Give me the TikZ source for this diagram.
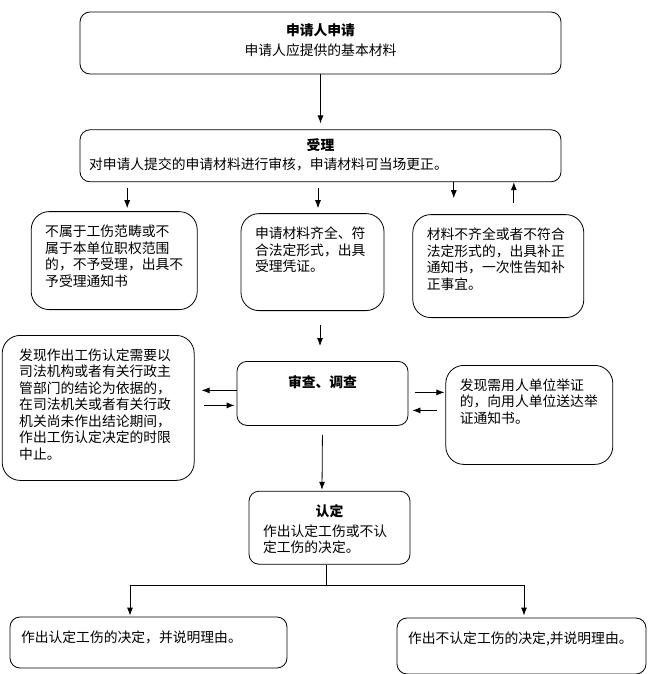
\documentclass[tikz,border=0pt]{standalone}
\usepackage{fontspec}
\newfontfamily\cjk{Noto Sans CJK SC}
\usetikzlibrary{arrows.meta,positioning}

\begin{document}
\begin{tikzpicture}[font=\cjk\fontsize{13.8}{16.5}\selectfont,>={Latex[length=8pt,width=6pt]},line width=0.8pt,
  card/.style={draw,rounded corners=10pt,inner xsep=14pt,inner ysep=5pt,align=left,text height=20pt},
  tallcard/.style={card,rounded corners=18pt}]
\useasboundingbox (0,0) rectangle (651pt,-674pt);
\node[card,align=center,text width=453pt,text height=19pt,text depth=33pt] (apply) at (320.5pt,-43pt) {\textbf{申请人申请}\\[3pt]申请人应提供的基本材料};
\node[card,inner xsep=9pt,text width=463pt,text height=16pt,text depth=26pt,below=55pt of apply] (accept) {\makebox[\linewidth]{\textbf{受理}}\\[2.5pt]对申请人提交的申请材料进行审核，申请材料可当场更正。};
\node[tallcard,text width=115pt,text depth=67pt,below=31pt of accept,xshift=-8pt] (receipt) {申请材料齐全、符\\合法定形式，出具\\受理凭证。};
\node[tallcard,text width=138pt,text depth=68pt,left=43pt of receipt,yshift=1.5pt] (reject) {不属于工伤范畴或不\\属于本单位职权范围\\的，不予受理，出具不\\予受理通知书};
\node[tallcard,text width=143pt,text depth=73pt,right=28pt of receipt,yshift=-4pt] (supplement) {材料不齐全或者不符合\\法定形式的，出具补正\\通知书，一次性告知补\\正事宜。};
\node[card,align=center,text width=143pt,text height=21pt,text depth=33pt,below=50pt of receipt,xshift=10pt] (review) {\textbf{审查、调查}};
\node[tallcard,inner xsep=17pt,text width=158pt,text depth=115pt,left=42pt of review,yshift=-14.5pt] (suspend) {发现作出工伤认定需要以\\司法机构或者有关行政主\\管部门的结论为依据的，\\在司法机关或者有关行政\\机关尚未作出结论期间，\\作出工伤认定决定的时限\\中止。};
\node[tallcard,text width=139pt,text depth=69pt,right=37pt of review,yshift=-21.5pt] (evidence) {发现需用人单位举证\\的，向用人单位送达举\\证通知书。};
\node[card,text width=133pt,text height=20pt,text depth=43pt,below=65pt of review,xshift=7pt] (decide) {\makebox[\linewidth]{\textbf{认定}}\\[3.5pt]作出认定工伤或不认\\定工伤的决定。};
\node[card,inner xsep=11pt,text width=255pt,text depth=21pt,below=52pt of decide,xshift=-181pt] (yes) {作出认定工伤的决定，并说明理由。};
\node[card,inner xsep=11pt,text width=227pt,text depth=26pt,below=53pt of decide,xshift=192pt] (no) {作出不认定工伤的决定,并说明理由。};

\coordinate (fixdn) at ([xshift=-44.5pt,yshift=16pt]supplement.north);
\coordinate (fixup) at ([xshift=15.5pt,yshift=11pt]supplement.north);
\coordinate (split) at ([xshift=-3.5pt,yshift=-21pt]decide.south);

\draw[->,shorten >=6pt] (apply) -- (accept);
\draw[->,shorten <=6pt,shorten >=3pt] ([xshift=13pt]reject.north |- accept.south) -- ([xshift=13pt]reject.north);
\draw[->,shorten <=6pt,shorten >=5pt] ([xshift=5.5pt]receipt.north |- accept.south) -- ([xshift=5.5pt]receipt.north);
\draw[->] (accept.south -| fixdn) -- (fixdn);
\draw[->] (fixup) -- (accept.south -| fixup);
\draw[->,shorten <=14pt,shorten >=15pt] ([xshift=7.5pt]receipt.south) -- ([xshift=-2.5pt]review.north);
\draw[->,shorten >=7pt] ([yshift=3pt]review.west) -- ([yshift=3pt]review.west -| suspend.east);
\draw[->,shorten <=9pt,shorten >=2pt] ([yshift=-12pt]review.west -| suspend.east) -- ([yshift=-12pt]review.west);
\draw[->,shorten <=7pt,shorten >=1pt] ([yshift=1pt]review.east) -- ([yshift=1pt]review.east -| evidence.west);
\draw[->,shorten <=8pt,shorten >=4pt] ([yshift=-17pt]review.east -| evidence.west) -- ([yshift=-17pt]review.east);
\draw[->,shorten <=9pt,shorten >=1pt] (review.south) -- ([xshift=-7.5pt]decide.north);
\draw (decide.south -| split) -- (split);
\draw[->,shorten >=1pt] (split) -| ([xshift=-18.5pt]yes.north);
\draw[->,shorten >=2pt] (split) -| ([xshift=2.5pt]no.north);
\end{tikzpicture}
\end{document}
